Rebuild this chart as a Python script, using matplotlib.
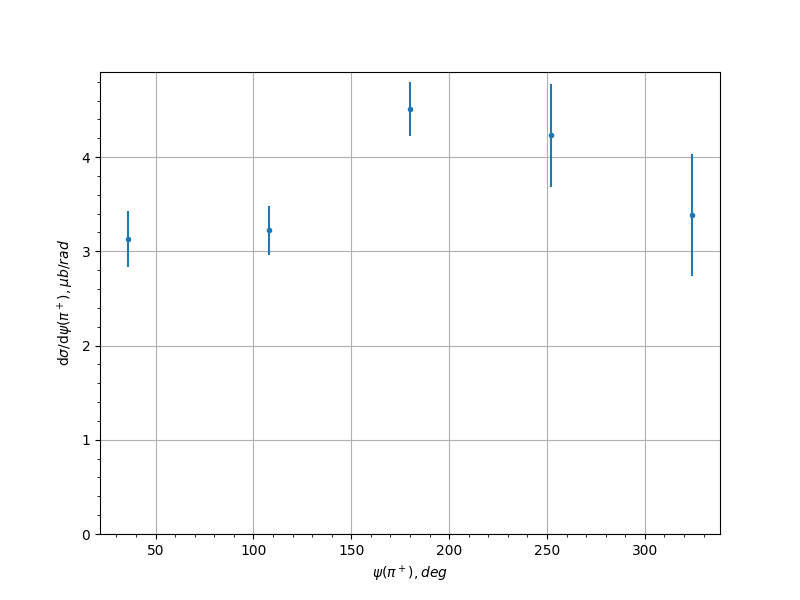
import matplotlib
matplotlib.use('Agg')
import matplotlib.pyplot as plt

# 数据
psi = [36, 108, 180, 252, 324]
dsigma = [3.13, 3.225, 4.51, 4.23, 3.385]
dsigma_err = [0.30, 0.26, 0.29, 0.55, 0.65]

fig, ax = plt.subplots(figsize=(8, 6), dpi=100)
ax.errorbar(psi, dsigma, yerr=dsigma_err, fmt='.')
ax.set_ylim(bottom=0)
ax.minorticks_on()
ax.grid(True, which='major')
ax.set_xlabel(r'$\psi(\pi^+), deg$')
ax.set_ylabel(r'd$\sigma$/d$\psi(\pi^+), \mu b/rad$')

fig.savefig('out.png')
